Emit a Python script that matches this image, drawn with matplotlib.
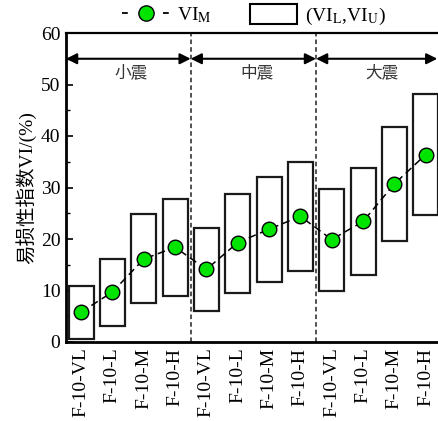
import numpy as np
import matplotlib
matplotlib.use("Agg")
import matplotlib.pyplot as plt
from matplotlib.lines import Line2D
from matplotlib.patches import Rectangle

plt.rcParams["font.family"] = ["Liberation Serif", "Noto Sans CJK SC"]
plt.rcParams["mathtext.fontset"] = "stix"

# -------------------- data --------------------
labels = ["F-10-VL", "F-10-L", "F-10-M", "F-10-H"] * 3
vi_low = [0.5, 3.1, 7.5, 9.0, 6.1, 9.6, 11.7, 13.8, 10.0, 13.0, 19.6, 24.7]
vi_up = [10.9, 16.2, 24.8, 27.8, 22.2, 28.8, 32.0, 34.9, 29.7, 33.7, 41.8, 48.2]
vi_mid = [5.8, 9.7, 16.1, 18.4, 14.1, 19.3, 21.9, 24.4, 19.9, 23.4, 30.7, 36.4]
groups = ["小震", "中震", "大震"]

x = np.arange(1, len(labels) + 1)
green = "#00e400"

fig = plt.figure(figsize=(4.38, 4.21), dpi=100)
ax = fig.add_axes([66 / 438, 79 / 421, 376 / 438, 309 / 421])

# boxes (VI_L, VI_U)
ax.bar(x, np.array(vi_up) - np.array(vi_low), bottom=vi_low, width=0.8,
       facecolor="white", edgecolor="#1a1a1a", linewidth=1.6, zorder=2)

# median line + markers
ax.plot(x, vi_mid, color="k", ls=(0, (5, 3)), lw=1.1, zorder=3)
ax.plot(x, vi_mid, ls="none", marker="o", ms=10.5, mfc=green, mec="k",
        mew=1.0, zorder=4)

# section separators
for xv in [4.5, 8.5]:
    ax.axvline(xv, color="#222222", ls=(0, (3, 2)), lw=1.1, zorder=1)

# double arrows with section names
x_lo, x_hi = 0.52, 12.52
bounds = [(x_lo, 4.5), (4.5, 8.5), (8.5, 12.37)]
for (a, b), name in zip(bounds, groups):
    ax.annotate("", xy=(a, 55), xytext=(b, 55),
                arrowprops=dict(arrowstyle="<|-|>", color="k", lw=1.5,
                                mutation_scale=16, shrinkA=0, shrinkB=0))
    ax.text((a + 0.1 + (b if b < 12 else 12.5)) / 2 + 0.05, 52.3, name,
            ha="center", va="center", fontsize=12, color="#333333",
            family="Noto Sans CJK SC")

ax.set_xlim(x_lo, x_hi)
ax.set_ylim(0, 60)
ax.set_xticks(x)
ax.set_xticklabels(labels, rotation=90, fontsize=14)
ax.set_yticks(np.arange(0, 61, 10))
ax.set_yticks(np.arange(5, 60, 10), minor=True)
ax.tick_params(axis="y", which="major", direction="in", length=5, width=1.2,
               labelsize=14, pad=4)
ax.tick_params(axis="y", which="minor", direction="in", length=3, width=1.0)
ax.tick_params(axis="x", length=0, pad=4)
ax.set_ylabel("易损性指数VI/(%)", fontsize=14, labelpad=3)

for side in ["left", "bottom"]:
    ax.spines[side].set_linewidth(2.0)
ax.spines["top"].set_linewidth(1.6)
ax.spines["right"].set_visible(False)

# legend: "- o -" handle, dash on each side of the marker
handles = [
    Line2D([], [], color="k", ls=(0, (3.2, 19.5)), lw=1.3, marker="o", ms=11,
           mfc=green, mec="k", mew=1.0),
    Rectangle((0, 0), 1, 1, facecolor="white", edgecolor="k", lw=1.5),
]
fig.legend(handles, [r"VI$_\mathrm{M}$", r"(VI$_\mathrm{L}$,VI$_\mathrm{U}$)"],
           loc="center", bbox_to_anchor=(0.580, 0.963), ncol=2, frameon=False,
           fontsize=14, handlelength=2.4, handleheight=1.15,
           handletextpad=0.4, columnspacing=2.0, borderpad=0)

fig.savefig("out.png", dpi=100)
